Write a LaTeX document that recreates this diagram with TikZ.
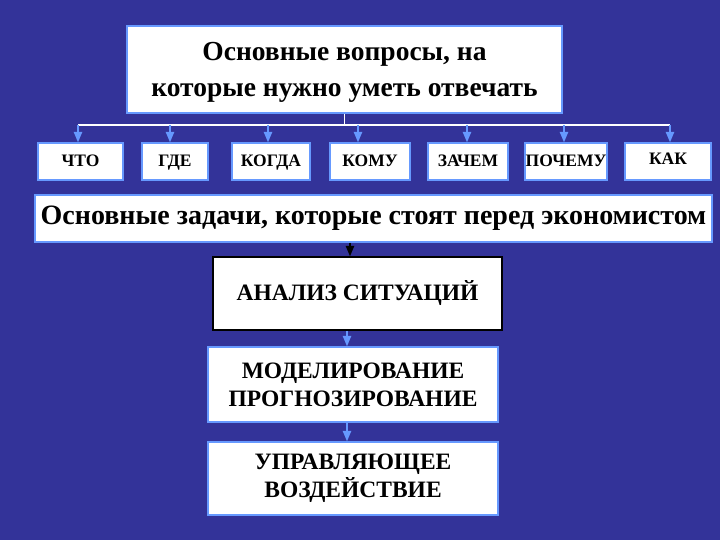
\documentclass[tikz,border=0pt]{standalone}
\usepackage{fontspec}
\setmainfont{Liberation Serif}
\usepackage{tikz}
\usetikzlibrary{arrows,positioning,calc}

\definecolor{slidebg}{RGB}{51,51,153}
\definecolor{edgeblue}{RGB}{102,153,255}

\begin{document}
\begin{tikzpicture}[
    x=1pt, y=-1pt,
    box/.style={rectangle, draw=edgeblue, fill=white, line width=1.6pt, align=center, inner sep=2pt, font=\bfseries},
    qbox/.style={box, minimum height=37pt, text height=2.3ex, text depth=0pt, font=\bfseries\fontsize{17.5}{19}\selectfont},
    taskbox/.style={box, minimum width=290pt, font=\bfseries\fontsize{23.5}{28}\selectfont},
    bus/.style={draw=white, line width=1.4pt},
    arrow/.style={-triangle 45, draw=edgeblue, line width=1.4pt}
]

% Background
\fill[slidebg] (0,0) rectangle (720,540);
\useasboundingbox (0,0) rectangle (720,540);

% Title
\node[box, minimum width=435pt, minimum height=87pt, text depth=0pt, font=\bfseries\fontsize{27.5}{36}\selectfont] (title) at (344.5,69.5) {Основные вопросы, на\\которые нужно уметь отвечать};

% Questions
\node[qbox, minimum width=85pt] (q1) at (80.5,161.5) {ЧТО};
\node[qbox, minimum width=66pt] (q2) at (175,161.5) {ГДЕ};
\node[qbox, minimum width=78pt] (q3) at (271,161.5) {КОГДА};
\node[qbox, minimum width=80pt] (q4) at (370,161.5) {КОМУ};
\node[qbox, minimum width=80pt] (q5) at (468,161.5) {ЗАЧЕМ};
\node[qbox, minimum width=82pt, inner sep=0pt] (q6) at (566,161.5) {ПОЧЕМУ};
\node[qbox, minimum width=86pt, text height=1.4ex, text depth=0.3ex] (q7) at (668,161.5) {КАК};

% Bus line
\coordinate (split) at (title.south |- 0,125);
\foreach \i/\bx in {1/78, 2/170, 3/268, 4/358, 5/467, 6/564, 7/670}
    \coordinate (b\i) at (\bx,125);

% Tasks
\node[box, minimum width=677pt, minimum height=47pt, font=\bfseries\fontsize{28}{30}\selectfont] (tasks) at (373.5,218.5) {Основные задачи, которые стоят перед экономистом};
\node[taskbox, draw=black, minimum width=289pt, minimum height=73pt] (analysis) at (357.5,293.5) {АНАЛИЗ СИТУАЦИЙ};
\node[taskbox, minimum height=75pt] (modeling) at (353,384.5) {МОДЕЛИРОВАНИЕ\\ПРОГНОЗИРОВАНИЕ};
\node[taskbox, minimum height=73pt] (control) at (353,478.5) {УПРАВЛЯЮЩЕЕ\\ВОЗДЕЙСТВИЕ};

% Arrows
\draw[bus] (title.south) -- (split);
\draw[bus] (b1) -- (b7);
\foreach \i in {1,...,7}
    \draw[arrow] (b\i) -- (b\i |- q\i.north);
\draw[-triangle 45, line width=1.4pt] (tasks.south -| 350,0) -- (analysis.north -| 350,0);
\draw[arrow] (analysis.south -| 347,0) -- (modeling.north -| 347,0);
\draw[arrow] (modeling.south -| 347,0) -- (control.north -| 347,0);

\end{tikzpicture}
\end{document}
